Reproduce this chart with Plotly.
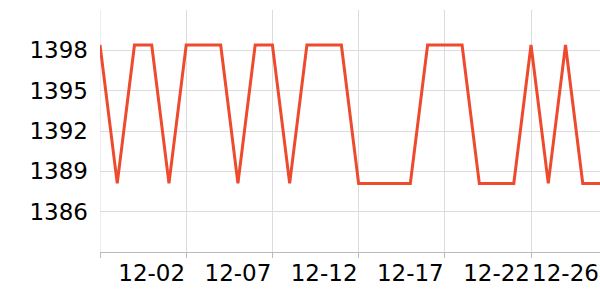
import plotly.graph_objects as go

dates = ["11-29", "11-30", "12-01", "12-02", "12-03", "12-04", "12-05", "12-06", "12-07", "12-08",
         "12-09", "12-10", "12-11", "12-12", "12-13", "12-14", "12-15", "12-16", "12-17", "12-18",
         "12-19", "12-20", "12-21", "12-22", "12-23", "12-24", "12-25", "12-26", "12-27", "12-28"]
values = [1398.4, 1388.1, 1398.4, 1398.4, 1388.1, 1398.4, 1398.4, 1398.4, 1388.1, 1398.4,
          1398.4, 1388.1, 1398.4, 1398.4, 1398.4, 1388.1, 1388.1, 1388.1, 1388.1, 1398.4,
          1398.4, 1398.4, 1388.1, 1388.1, 1388.1, 1398.4, 1388.1, 1398.4, 1388.1, 1388.1]
tick_labels = ["12-02", "12-07", "12-12", "12-17", "12-22", "12-26"]
y_ticks = [1386, 1389, 1392, 1395, 1398]

idx = list(range(len(dates)))
tick_pos = [dates.index(t) for t in tick_labels]

fig = go.Figure()
fig.add_trace(go.Scatter(x=idx, y=values, mode="lines",
                         line=dict(color="#ee4a2d", width=3), hoverinfo="skip"))

fig.update_layout(
    width=600, height=300,
    margin=dict(l=100, r=0, t=10, b=48),
    paper_bgcolor="white", plot_bgcolor="white",
    showlegend=False,
    font=dict(family="DejaVu Sans", size=23, color="#000000"),
    xaxis=dict(
        range=[0, len(dates) - 1],
        tickmode="array", tickvals=tick_pos, ticktext=tick_labels,
        showgrid=False, ticks="", showline=True, linecolor="#bbbbbb", linewidth=1,
        zeroline=False, tickfont=dict(size=23),
        minor=dict(tick0=0, dtick=5, showgrid=True, gridcolor="#dcdcdc", gridwidth=1,
                   ticks="outside", ticklen=5, tickcolor="#bbbbbb"),
    ),
    yaxis=dict(
        range=[1383, 1401],
        tickmode="array", tickvals=y_ticks,
        showgrid=True, gridcolor="#dcdcdc", gridwidth=1,
        zeroline=False, showline=False, ticks="", ticklen=0,
        ticklabelstandoff=11,
        tickfont=dict(size=23),
    ),
)
fig.add_shape(type="line", xref="x", yref="paper", x0=0, x1=0, y0=0, y1=1,
              line=dict(color="#dcdcdc", width=1), layer="below")

fig.write_html("out.html")
